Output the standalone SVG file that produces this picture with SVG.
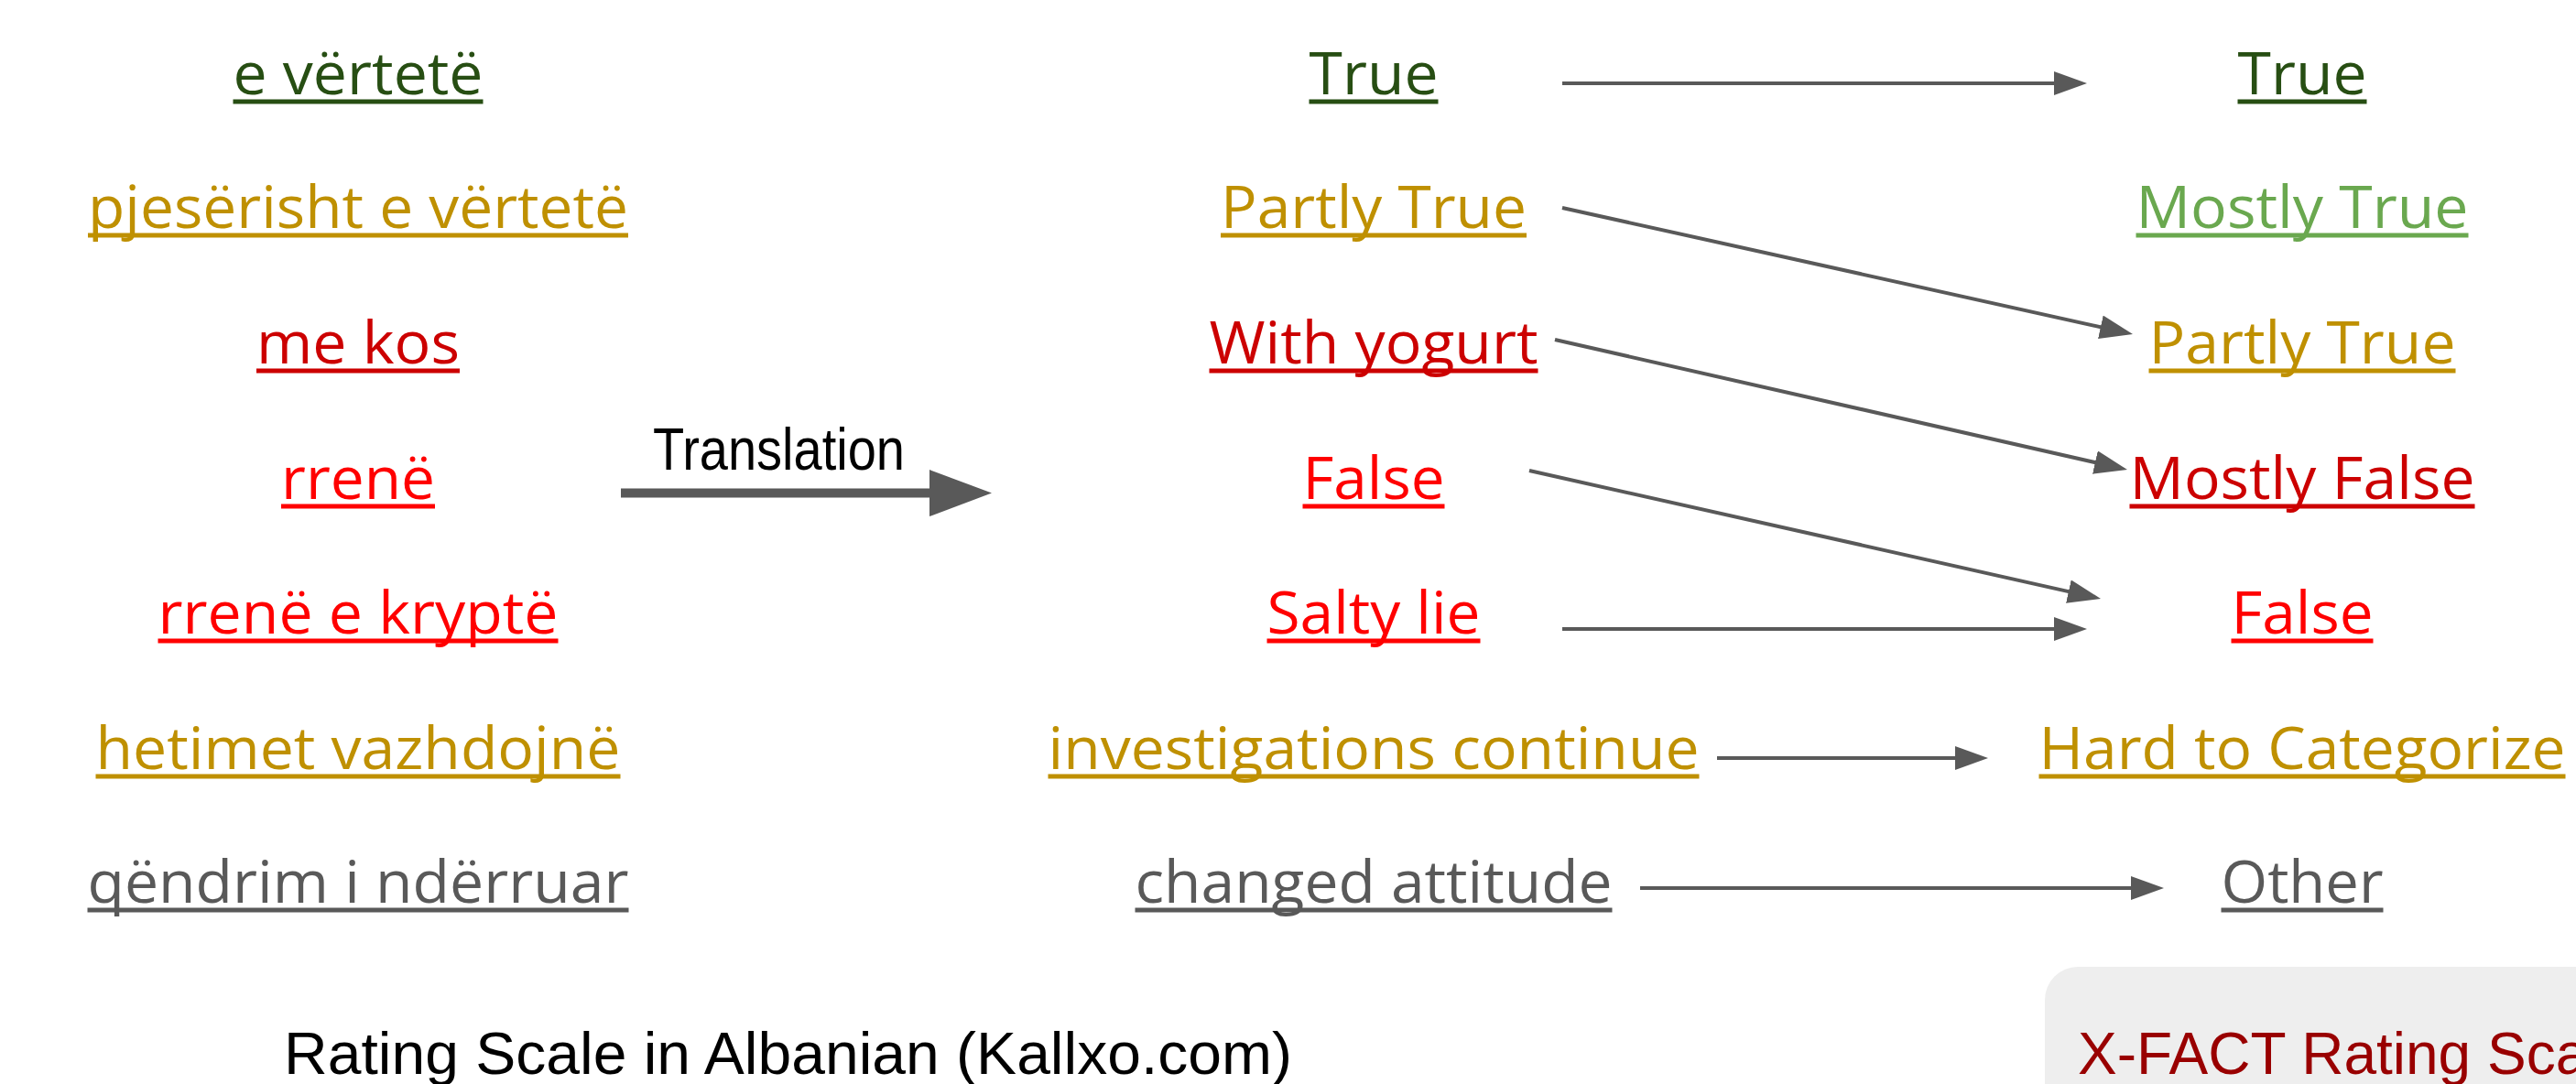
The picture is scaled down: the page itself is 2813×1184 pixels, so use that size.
<svg xmlns="http://www.w3.org/2000/svg" width="2813" height="1184" viewBox="0 0 2813 1184">
<style>
.lbl{font-family:"Open Sans","Noto Sans","DejaVu Sans",sans-serif;font-size:64px;text-anchor:middle}
.ul{stroke-width:5}
.dg{fill:#274e13;stroke:#274e13}
.gd{fill:#bf9000;stroke:#bf9000}
.dr{fill:#cc0000;stroke:#cc0000}
.rd{fill:#ff0000;stroke:#ff0000}
.gy{fill:#595959;stroke:#595959}
.lg{fill:#6aa84f;stroke:#6aa84f}
text.dg,text.gd,text.dr,text.rd,text.gy,text.lg{stroke:none}
.conn{stroke:#595959;stroke-width:4;fill:none;marker-end:url(#ah)}
.cap{font-family:"Liberation Sans",Arial,sans-serif;font-size:64px}
</style>
<defs>
<marker id="ah" markerUnits="userSpaceOnUse" markerWidth="36" markerHeight="26" refX="16" refY="13" orient="auto">
<path d="M0,0 L36,13 L0,26 Z" fill="#595959"/>
</marker>
</defs>
<rect width="2813" height="1184" fill="#ffffff"/>

<!-- Albanian column -->
<g id="sq-e-vertete"><text class="lbl dg" x="391" y="103" textLength="273" lengthAdjust="spacingAndGlyphs">e vërtetë</text><line class="ul dg" x1="254.5" y1="111" x2="527.5" y2="111"/></g>
<g id="sq-pjeserisht"><text class="lbl gd" x="391" y="249" textLength="590" lengthAdjust="spacingAndGlyphs">pjesërisht e vërtetë</text><line class="ul gd" x1="96" y1="257" x2="686" y2="257"/></g>
<g id="sq-me-kos"><text class="lbl dr" x="391" y="397" textLength="222" lengthAdjust="spacingAndGlyphs">me kos</text><line class="ul dr" x1="280" y1="405" x2="502" y2="405"/></g>
<g id="sq-rrene"><text class="lbl rd" x="391" y="545" textLength="168" lengthAdjust="spacingAndGlyphs">rrenë</text><line class="ul rd" x1="307" y1="553" x2="475" y2="553"/></g>
<g id="sq-rrene-kripte"><text class="lbl rd" x="391" y="692" textLength="437" lengthAdjust="spacingAndGlyphs">rrenë e kryptë</text><line class="ul rd" x1="172.5" y1="700" x2="609.5" y2="700"/></g>
<g id="sq-hetimet"><text class="lbl gd" x="391" y="840" textLength="573" lengthAdjust="spacingAndGlyphs">hetimet vazhdojnë</text><line class="ul gd" x1="104.5" y1="848" x2="677.5" y2="848"/></g>
<g id="sq-qendrim"><text class="lbl gy" x="391" y="986" textLength="591" lengthAdjust="spacingAndGlyphs">qëndrim i ndërruar</text><line class="ul gy" x1="95.5" y1="994" x2="686.5" y2="994"/></g>

<!-- Translation arrow -->
<g id="translation">
<text class="cap" x="713" y="513" font-size="54" fill="#000000" textLength="275" lengthAdjust="spacingAndGlyphs">Translation</text>
<rect x="678" y="533.5" width="340" height="10" fill="#595959"/>
<path d="M1015,513 L1083,538.5 L1015,564 Z" fill="#595959"/>
</g>

<!-- English translation column -->
<g id="en-true"><text class="lbl dg" x="1500" y="103" textLength="141" lengthAdjust="spacingAndGlyphs">True</text><line class="ul dg" x1="1429.5" y1="111" x2="1570.5" y2="111"/></g>
<g id="en-partly-true"><text class="lbl gd" x="1500" y="249" textLength="334" lengthAdjust="spacingAndGlyphs">Partly True</text><line class="ul gd" x1="1333" y1="257" x2="1667" y2="257"/></g>
<g id="en-with-yogurt"><text class="lbl dr" x="1500" y="397" textLength="359" lengthAdjust="spacingAndGlyphs">With yogurt</text><line class="ul dr" x1="1320.5" y1="405" x2="1679.5" y2="405"/></g>
<g id="en-false"><text class="lbl rd" x="1500" y="545" textLength="155" lengthAdjust="spacingAndGlyphs">False</text><line class="ul rd" x1="1422.5" y1="553" x2="1577.5" y2="553"/></g>
<g id="en-salty-lie"><text class="lbl rd" x="1500" y="692" textLength="233" lengthAdjust="spacingAndGlyphs">Salty lie</text><line class="ul rd" x1="1383.5" y1="700" x2="1616.5" y2="700"/></g>
<g id="en-investigations"><text class="lbl gd" x="1500" y="840" textLength="711" lengthAdjust="spacingAndGlyphs">investigations continue</text><line class="ul gd" x1="1144.5" y1="848" x2="1855.5" y2="848"/></g>
<g id="en-changed"><text class="lbl gy" x="1500" y="986" textLength="521" lengthAdjust="spacingAndGlyphs">changed attitude</text><line class="ul gy" x1="1239.5" y1="994" x2="1760.5" y2="994"/></g>

<!-- X-FACT column -->
<g id="xf-true"><text class="lbl dg" x="2514" y="103" textLength="141" lengthAdjust="spacingAndGlyphs">True</text><line class="ul dg" x1="2443.5" y1="111" x2="2584.5" y2="111"/></g>
<g id="xf-mostly-true"><text class="lbl lg" x="2514" y="249" textLength="363" lengthAdjust="spacingAndGlyphs">Mostly True</text><line class="ul lg" x1="2332.5" y1="257" x2="2695.5" y2="257"/></g>
<g id="xf-partly-true"><text class="lbl gd" x="2514" y="397" textLength="335" lengthAdjust="spacingAndGlyphs">Partly True</text><line class="ul gd" x1="2346.5" y1="405" x2="2681.5" y2="405"/></g>
<g id="xf-mostly-false"><text class="lbl dr" x="2514" y="545" textLength="377" lengthAdjust="spacingAndGlyphs">Mostly False</text><line class="ul dr" x1="2325.5" y1="553" x2="2702.5" y2="553"/></g>
<g id="xf-false"><text class="lbl rd" x="2514" y="692" textLength="155" lengthAdjust="spacingAndGlyphs">False</text><line class="ul rd" x1="2436.5" y1="700" x2="2591.5" y2="700"/></g>
<g id="xf-hard"><text class="lbl gd" x="2514" y="840" textLength="575" lengthAdjust="spacingAndGlyphs">Hard to Categorize</text><line class="ul gd" x1="2226.5" y1="848" x2="2801.5" y2="848"/></g>
<g id="xf-other"><text class="lbl gy" x="2514" y="986" textLength="177" lengthAdjust="spacingAndGlyphs">Other</text><line class="ul gy" x1="2425.5" y1="994" x2="2602.5" y2="994"/></g>

<!-- connectors -->
<g id="connectors">
<line class="conn" x1="1706" y1="91" x2="2259" y2="91"/>
<line class="conn" x1="1706" y1="227" x2="2309.5" y2="360.7"/>
<line class="conn" x1="1698" y1="371" x2="2303.5" y2="508.6"/>
<line class="conn" x1="1670" y1="514" x2="2274.5" y2="649.6"/>
<line class="conn" x1="1706" y1="687" x2="2259" y2="687"/>
<line class="conn" x1="1875" y1="828" x2="2151" y2="828"/>
<line class="conn" x1="1791" y1="970" x2="2343" y2="970"/>
</g>

<!-- captions -->
<g id="caption-albanian"><text class="cap" x="310" y="1173" fill="#000000" textLength="1101" lengthAdjust="spacingAndGlyphs">Rating Scale in Albanian (Kallxo.com)</text></g>
<g id="caption-xfact">
<rect x="2233" y="1056" width="640" height="200" rx="36" ry="36" fill="#eeeeee"/>
<text class="cap" x="2269" y="1173" fill="#990000">X-FACT Rating Scale</text>
</g>
</svg>
